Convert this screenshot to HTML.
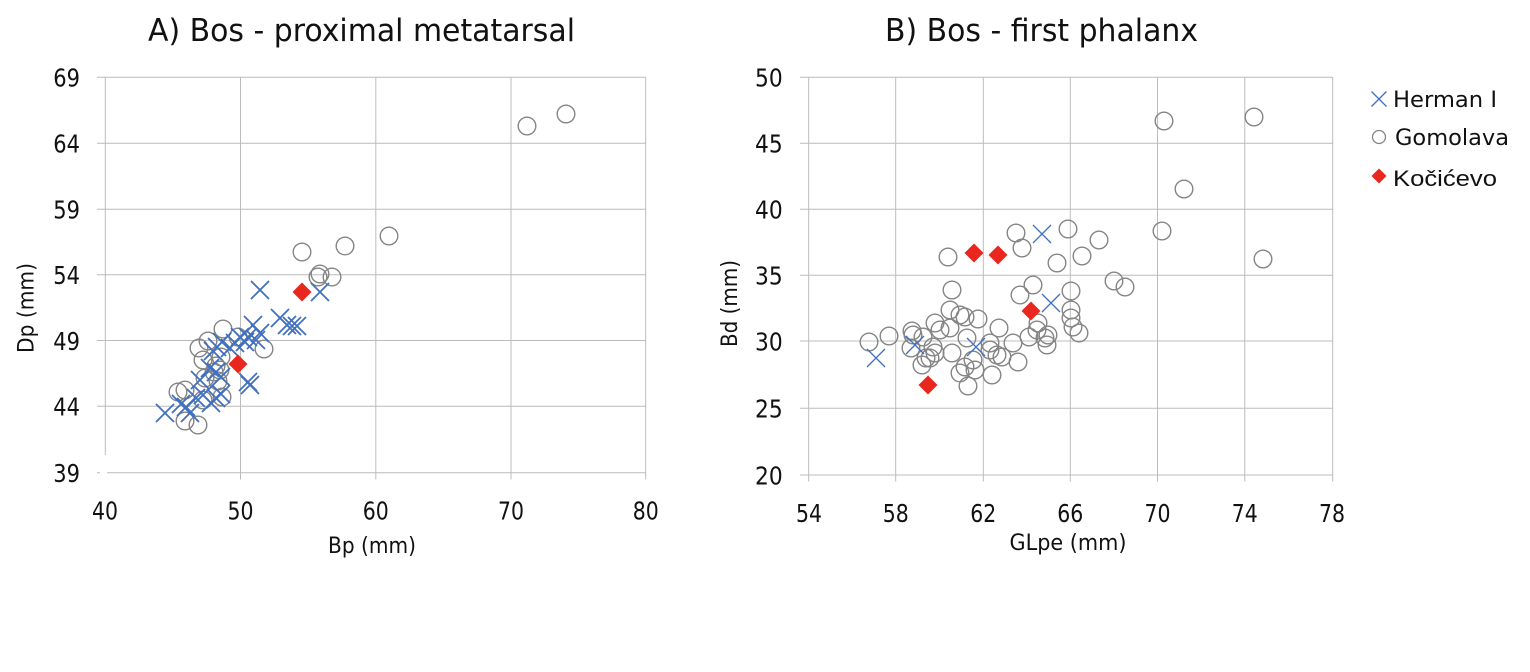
<!DOCTYPE html>
<html><head><meta charset="utf-8"><style>
html,body{margin:0;padding:0;background:#fff;}
svg{display:block;}
text{font-family:"DejaVu Sans","Liberation Sans",sans-serif;fill:#111;}
</style></head><body>
<svg width="1530" height="672" viewBox="0 0 1530 672" xmlns="http://www.w3.org/2000/svg">
<rect width="1530" height="672" fill="#fff"/>
<defs>
<g id="xa"><path d="M-9,-9L9,9M-9,9L9,-9" stroke="#4170c0" stroke-width="1.8" fill="none"/></g>
<g id="xb"><path d="M-9,-9L9,9M-9,9L9,-9" stroke="#4170c0" stroke-width="1.3" fill="none"/></g>
<g id="c"><circle r="8.8" fill="none" stroke="#858585" stroke-width="1.4"/></g>
<g id="d"><path d="M0,-9.5L9.5,0L0,9.5L-9.5,0Z" fill="#e8281e"/></g>
</defs>

<!-- Chart A -->
<text x="148" y="41" font-size="31" textLength="427" lengthAdjust="spacingAndGlyphs">A) Bos - proximal metatarsal</text>
<g stroke="#bcbcbc" stroke-width="1" fill="none">
<path d="M97,77.3H645.7M97,143.3H645.7M97,209.3H645.7M97,274.8H645.7M97,340.5H645.7M97,406.3H645.7M97,472.7H100M107,472.7H645.7"/>
<path d="M105.3,77.3V455M240.5,77.3V479.5M375.8,77.3V479.5M511,77.3V479.5M645.7,77.3V479.5"/>
</g>
<g font-size="25" text-anchor="end">
<text x="80" y="86.7" textLength="26.7" lengthAdjust="spacingAndGlyphs">69</text>
<text x="80" y="152.7" textLength="26.7" lengthAdjust="spacingAndGlyphs">64</text>
<text x="80" y="218.7" textLength="26.7" lengthAdjust="spacingAndGlyphs">59</text>
<text x="80" y="284.2" textLength="26.7" lengthAdjust="spacingAndGlyphs">54</text>
<text x="80" y="349.9" textLength="26.7" lengthAdjust="spacingAndGlyphs">49</text>
<text x="80" y="415.7" textLength="26.7" lengthAdjust="spacingAndGlyphs">44</text>
<text x="80" y="482" textLength="26.7" lengthAdjust="spacingAndGlyphs">39</text>
</g>
<g font-size="25" text-anchor="middle">
<text x="105" y="519.3" textLength="26" lengthAdjust="spacingAndGlyphs">40</text>
<text x="240.5" y="519.3" textLength="26" lengthAdjust="spacingAndGlyphs">50</text>
<text x="375.8" y="519.3" textLength="26" lengthAdjust="spacingAndGlyphs">60</text>
<text x="511" y="519.3" textLength="26" lengthAdjust="spacingAndGlyphs">70</text>
<text x="645.7" y="519.3" textLength="26" lengthAdjust="spacingAndGlyphs">80</text>
</g>
<text x="372" y="553" font-size="22" text-anchor="middle" textLength="88" lengthAdjust="spacingAndGlyphs">Bp (mm)</text>
<text transform="translate(33.5,308) rotate(-90)" font-size="22" text-anchor="middle" textLength="90" lengthAdjust="spacingAndGlyphs">Dp (mm)</text>

<!-- A Gomolava -->
<g>
<use href="#c" x="527" y="126"/><use href="#c" x="566" y="114"/><use href="#c" x="389" y="236"/>
<use href="#c" x="345" y="246"/><use href="#c" x="302" y="252"/><use href="#c" x="320" y="274"/>
<use href="#c" x="318" y="277"/><use href="#c" x="332" y="277"/><use href="#c" x="223" y="329"/>
<use href="#c" x="208" y="341"/><use href="#c" x="199" y="348"/><use href="#c" x="203" y="360"/>
<use href="#c" x="238" y="337"/><use href="#c" x="264" y="349"/><use href="#c" x="221" y="357"/>
<use href="#c" x="216" y="366"/><use href="#c" x="220" y="370"/><use href="#c" x="214" y="372"/>
<use href="#c" x="205" y="378"/><use href="#c" x="218" y="381"/><use href="#c" x="178" y="392"/>
<use href="#c" x="185" y="390"/><use href="#c" x="203" y="400"/><use href="#c" x="222" y="397"/>
<use href="#c" x="185" y="421"/><use href="#c" x="198" y="425"/>
</g>
<!-- A Herman I -->
<g>
<use href="#xa" x="165" y="413"/><use href="#xa" x="181" y="404"/><use href="#xa" x="186" y="407"/>
<use href="#xa" x="190" y="413"/><use href="#xa" x="196" y="398"/><use href="#xa" x="203" y="395"/>
<use href="#xa" x="211" y="403"/><use href="#xa" x="216" y="398"/><use href="#xa" x="221" y="394"/>
<use href="#xa" x="200" y="380"/><use href="#xa" x="210" y="368"/><use href="#xa" x="216" y="372"/>
<use href="#xa" x="221" y="377"/><use href="#xa" x="213" y="351"/><use href="#xa" x="217" y="347"/>
<use href="#xa" x="222" y="342"/><use href="#xa" x="230" y="348"/><use href="#xa" x="235" y="343"/>
<use href="#xa" x="240" y="337"/><use href="#xa" x="245" y="342"/><use href="#xa" x="248" y="337"/>
<use href="#xa" x="253" y="325"/><use href="#xa" x="256" y="340"/><use href="#xa" x="260" y="333"/>
<use href="#xa" x="248" y="382"/><use href="#xa" x="250" y="385"/><use href="#xa" x="260" y="290"/>
<use href="#xa" x="280" y="318"/><use href="#xa" x="287" y="325"/><use href="#xa" x="292" y="326"/>
<use href="#xa" x="297" y="326"/><use href="#xa" x="320" y="292"/>
</g>
<use href="#d" x="302" y="292"/><use href="#d" x="238" y="364"/>

<!-- Chart B -->
<text x="885" y="41" font-size="31" textLength="313" lengthAdjust="spacingAndGlyphs">B) Bos - first phalanx</text>
<g stroke="#bcbcbc" stroke-width="1" fill="none">
<path d="M800,77.3H1332.7M800,143.3H1332.7M800,209.3H1332.7M800,275.3H1332.7M800,341H1332.7M800,408.3H1332.7M800,475H1332.7"/>
<path d="M808.7,77.3V481.5M895.7,77.3V481.5M983.3,77.3V481.5M1070.3,77.3V481.5M1157.5,77.3V481.5M1244.8,77.3V481.5M1332.7,77.3V481.5"/>
</g>
<g font-size="25" text-anchor="end">
<text x="782.7" y="86.7" textLength="27.7" lengthAdjust="spacingAndGlyphs">50</text>
<text x="782.7" y="152.7" textLength="27.7" lengthAdjust="spacingAndGlyphs">45</text>
<text x="782.7" y="218.7" textLength="27.7" lengthAdjust="spacingAndGlyphs">40</text>
<text x="782.7" y="284.7" textLength="27.7" lengthAdjust="spacingAndGlyphs">35</text>
<text x="782.7" y="350.4" textLength="27.7" lengthAdjust="spacingAndGlyphs">30</text>
<text x="782.7" y="417.7" textLength="27.7" lengthAdjust="spacingAndGlyphs">25</text>
<text x="782.7" y="484.4" textLength="27.7" lengthAdjust="spacingAndGlyphs">20</text>
</g>
<g font-size="25" text-anchor="middle">
<text x="809" y="522" textLength="26" lengthAdjust="spacingAndGlyphs">54</text>
<text x="895.7" y="522" textLength="26" lengthAdjust="spacingAndGlyphs">58</text>
<text x="983.3" y="522" textLength="26" lengthAdjust="spacingAndGlyphs">62</text>
<text x="1070.3" y="522" textLength="26" lengthAdjust="spacingAndGlyphs">66</text>
<text x="1157.5" y="522" textLength="26" lengthAdjust="spacingAndGlyphs">70</text>
<text x="1244.8" y="522" textLength="26" lengthAdjust="spacingAndGlyphs">74</text>
<text x="1332" y="522" textLength="26" lengthAdjust="spacingAndGlyphs">78</text>
</g>
<text x="1068" y="550" font-size="22" text-anchor="middle" textLength="117" lengthAdjust="spacingAndGlyphs">GLpe (mm)</text>
<text transform="translate(737,303.5) rotate(-90)" font-size="22" text-anchor="middle" textLength="87" lengthAdjust="spacingAndGlyphs">Bd (mm)</text>

<!-- B Gomolava -->
<g>
<use href="#c" x="869" y="342"/><use href="#c" x="889" y="336"/><use href="#c" x="912" y="331"/>
<use href="#c" x="913" y="335"/><use href="#c" x="923" y="337"/><use href="#c" x="911" y="348"/>
<use href="#c" x="922" y="365"/><use href="#c" x="930" y="358"/><use href="#c" x="935" y="353"/>
<use href="#c" x="933" y="347"/><use href="#c" x="935" y="323"/><use href="#c" x="940" y="330"/>
<use href="#c" x="950" y="328"/><use href="#c" x="948" y="257"/><use href="#c" x="952" y="290"/>
<use href="#c" x="950" y="310"/><use href="#c" x="960" y="315"/><use href="#c" x="965" y="317"/>
<use href="#c" x="978" y="319"/><use href="#c" x="952" y="353"/><use href="#c" x="967" y="338"/>
<use href="#c" x="973" y="360"/><use href="#c" x="965" y="367"/><use href="#c" x="975" y="370"/>
<use href="#c" x="960" y="373"/><use href="#c" x="968" y="386"/><use href="#c" x="990" y="343"/>
<use href="#c" x="990" y="350"/><use href="#c" x="997" y="355"/><use href="#c" x="1002" y="357"/>
<use href="#c" x="992" y="375"/><use href="#c" x="999" y="328"/><use href="#c" x="1013" y="343"/>
<use href="#c" x="1018" y="362"/><use href="#c" x="1016" y="233"/><use href="#c" x="1022" y="248"/>
<use href="#c" x="1020" y="295"/><use href="#c" x="1033" y="285"/><use href="#c" x="1029" y="337"/>
<use href="#c" x="1038" y="323"/><use href="#c" x="1037" y="330"/><use href="#c" x="1048" y="335"/>
<use href="#c" x="1045" y="338"/><use href="#c" x="1047" y="345"/><use href="#c" x="1057" y="263"/>
<use href="#c" x="1068" y="229"/><use href="#c" x="1071" y="291"/><use href="#c" x="1071" y="310"/>
<use href="#c" x="1071" y="318"/><use href="#c" x="1073" y="327"/><use href="#c" x="1079" y="333"/>
<use href="#c" x="1082" y="256"/><use href="#c" x="1099" y="240"/><use href="#c" x="1114" y="281"/>
<use href="#c" x="1125" y="287"/><use href="#c" x="1162" y="231"/><use href="#c" x="1164" y="121"/>
<use href="#c" x="1254" y="117"/><use href="#c" x="1184" y="189"/><use href="#c" x="1263" y="259"/>
<use href="#c" x="926" y="358"/>
</g>
<!-- B Herman I -->
<use href="#xb" x="876" y="358"/><use href="#xb" x="915" y="345"/><use href="#xb" x="976" y="347"/>
<use href="#xb" x="1042" y="234"/><use href="#xb" x="1051" y="303"/>
<!-- B Kočićevo -->
<use href="#d" x="974" y="253"/><use href="#d" x="998" y="255"/><use href="#d" x="1031" y="311"/><use href="#d" x="928" y="385"/>

<!-- Legend -->
<path d="M1371.5,91.5L1386.5,106.5M1371.5,106.5L1386.5,91.5" stroke="#4170c0" stroke-width="1.3" fill="none"/>
<text x="1393" y="107" font-size="22" textLength="104" lengthAdjust="spacingAndGlyphs">Herman I</text>
<circle cx="1379" cy="137" r="6.5" fill="none" stroke="#858585" stroke-width="1.3"/>
<text x="1395" y="145" font-size="22" textLength="114" lengthAdjust="spacingAndGlyphs">Gomolava</text>
<path d="M1379,168.5L1386.5,176L1379,183.5L1371.5,176Z" fill="#e8281e"/>
<text x="1393" y="186" font-size="22" textLength="104" lengthAdjust="spacingAndGlyphs" style="font-family:'Liberation Sans',sans-serif">Kočićevo</text>
</svg>
</body></html>
